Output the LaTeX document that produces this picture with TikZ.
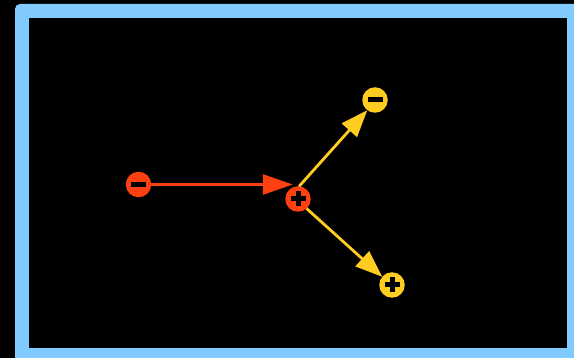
\documentclass[tikz,border=0pt]{standalone}
\usetikzlibrary{arrows.meta}
\definecolor{framebl}{RGB}{128,202,255}
\definecolor{chred}{RGB}{255,64,16}
\definecolor{chyel}{RGB}{255,204,34}
\tikzset{
  charge/.style={circle,minimum size=25.5pt,inner sep=0pt,outer sep=0pt},
  negcharge/.style={charge,path picture={
    \fill[black] ([xshift=-7.5pt,yshift=-2.5pt]path picture bounding box.center) rectangle ++(15pt,5pt);}},
  poscharge/.style={charge,path picture={
    \fill[black] ([xshift=-7.5pt,yshift=-2.5pt]path picture bounding box.center) rectangle ++(15pt,5pt);
    \fill[black] ([xshift=-2.5pt,yshift=-7.5pt]path picture bounding box.center) rectangle ++(5pt,15pt);}},
  redarrow/.style={draw=chred,line width=2.8pt,-{Triangle[length=30pt,width=20pt]},fill=chred},
  yelarrow/.style={draw=chyel,line width=2.8pt,-{Triangle[length=27pt,width=20pt]},fill=chyel}
}
\begin{document}
\begin{tikzpicture}[x=1pt,y=-1pt]
  \useasboundingbox (0,0) rectangle (574,358);
  \fill[black] (0,0) rectangle (574,358);
  \begin{scope}
    \clip (0,0) rectangle (574,358);
    % light blue border running past the right and bottom edges
    \fill[framebl,rounded corners=5pt] (15,4) rectangle (600,380);
    \fill[black] (29,18) rectangle (567,348);
  \end{scope}
  % charges
  \node[negcharge,fill=chred] (rm) at (138.5,184.5) {};
  \node[poscharge,fill=chred] (rp) at (298,199) {};
  \node[negcharge,fill=chyel] (ym) at (375,100) {};
  \node[poscharge,fill=chyel] (yp) at (392,285) {};
  % connectors
  \draw[redarrow] (rm.east) -- (rp.114 |- rm.east);
  \draw[yelarrow] (rp.85) -- (ym.233);
  \draw[yelarrow] (rp.-48) -- (yp.140);
\end{tikzpicture}
\end{document}
